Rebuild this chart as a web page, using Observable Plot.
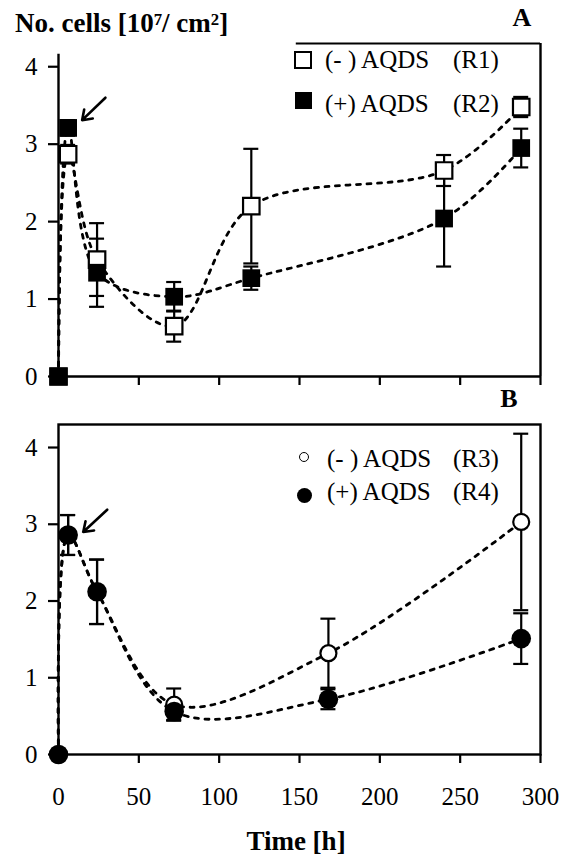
<!DOCTYPE html>
<html><head><meta charset="utf-8">
<script src="https://cdn.jsdelivr.net/npm/d3@7"></script>
<script src="https://cdn.jsdelivr.net/npm/@observablehq/plot@0.6"></script>
<style>
body{margin:0;background:#fff;}
#wrap{position:relative;width:569px;height:860px;font-family:"Liberation Serif","Times New Roman",Times,"DejaVu Serif",serif;color:#000;overflow:hidden;}
.abs{position:absolute;white-space:pre;line-height:1;}
.sup{position:relative;top:-0.42em;font-size:0.62em;}
</style></head><body><div id="wrap"></div>
<script>
// ---- data ----
const timesA = [0, 6, 24, 72, 120, 240, 288];
const r1 = [0, 2.87, 1.51, 0.65, 2.20, 2.66, 3.48];      // (-) AQDS (R1), open squares
const r1Err = [0, 0.12, 0.47, 0.20, 0.74, 0.20, 0.13];
const r2 = [0, 3.21, 1.34, 1.03, 1.27, 2.04, 2.95];      // (+) AQDS (R2), filled squares
const r2Err = [0, 0.10, 0.44, 0.19, 0.15, 0.62, 0.25];
const timesB = [0, 6, 24, 72, 168, 288];
const r3 = [0, 2.86, 2.12, 0.65, 1.32, 3.03];            // (-) AQDS (R3), open circles
const r3Err = [0, 0.26, 0.42, 0.21, 0.45, 1.15];
const r4 = [0, 2.86, 2.12, 0.56, 0.72, 1.51];            // (+) AQDS (R4), filled circles
const r4Err = [0, 0.26, 0.42, 0.11, 0.13, 0.33];
const yTicks = [0, 1, 2, 3, 4];
const xTicks = [0, 50, 100, 150, 200, 250, 300];
const legendA = ["(- ) AQDS", "(+) AQDS"], legendARef = ["(R1)", "(R2)"];
const legendB = ["(- ) AQDS", "(+) AQDS"], legendBRef = ["(R3)", "(R4)"];

const rows = (ts, vs, es) => ts.map((t, i) => ({t, v: vs[i], e: es[i]}));
const A1 = rows(timesA, r1, r1Err), A2 = rows(timesA, r2, r2Err);
const B3 = rows(timesB, r3, r3Err), B4 = rows(timesB, r4, r4Err);

const wrap = document.getElementById("wrap");
const FONT = '"Liberation Serif","Times New Roman",Times,"DejaVu Serif",serif';
const X = {domain: [0, 300]};
const Y = {domain: [0, 4.3]};
const dash = {curve: "catmull-rom", strokeDasharray: "4,6.5", strokeWidth: 2.8, stroke: "black"};
const fmt = d3.format("d");

function errMarks(data) {
  const d = data.filter(r => r.e > 0);
  return [
    Plot.ruleX(d, {x: "t", y1: r => r.v - r.e, y2: r => r.v + r.e, strokeWidth: 2.2}),
    Plot.ruleY(d, {y: r => r.v + r.e, x1: "t", x2: "t", insetLeft: -7.5, insetRight: -7.5, strokeWidth: 2.2}),
    Plot.ruleY(d, {y: r => r.v - r.e, x1: "t", x2: "t", insetLeft: -7.5, insetRight: -7.5, strokeWidth: 2.2})
  ];
}
function arrowFor(p, dx1, dy1, dx2, dy2) {
  return Plot.arrow([{x1: p.t + dx1, y1: p.v + dy1, x2: p.t + dx2, y2: p.v + dy2}],
    {x1: "x1", y1: "y1", x2: "x2", y2: "y2", strokeWidth: 2.6, headLength: 15, headAngle: 70});
}
const style = {fontFamily: FONT, fontSize: "25px", color: "black", background: "transparent", overflow: "visible"};

// ---- panel A ----
const plotA = Plot.plot({
  width: 569, height: 348, marginTop: 3, marginBottom: 12, marginLeft: 58, marginRight: 29,
  x: X, y: Y, style,
  marks: [
    Plot.line(A1, {x: "t", y: "v", ...dash}),
    Plot.line(A2, {x: "t", y: "v", ...dash}),
    ...errMarks(A1), ...errMarks(A2),
    Plot.ruleY([0], {strokeWidth: 2.4}),
    Plot.ruleX([0], {y1: 0, y2: 4.16, strokeWidth: 2.4}),
    Plot.ruleX([300], {y1: 0, y2: 4.3, strokeWidth: 2.4}),
    Plot.ruleY([4.3], {x1: 148, x2: 300, strokeWidth: 2}),
    Plot.axisY({ticks: yTicks, tickFormat: fmt, tickSize: 10, tickPadding: 11, strokeWidth: 2.2, fontSize: 25, fontFamily: FONT, label: null}),
    Plot.axisX({ticks: xTicks, tickSize: 9, strokeWidth: 2.2, tickFormat: () => "", label: null}),
    Plot.dot(A1, {x: "t", y: "v", symbol: "square", r: 9.3, fill: "white", stroke: "black", strokeWidth: 2.2}),
    Plot.dot(A2, {x: "t", y: "v", symbol: "square", r: 10, fill: "black"}),
    arrowFor(A2[1], 23.2, 0.39, 8.7, 0.1)
  ]
});
plotA.style.position = "absolute"; plotA.style.left = "0px"; plotA.style.top = "40px";
wrap.appendChild(plotA);

// ---- panel B ----
const plotB = Plot.plot({
  width: 569, height: 393, marginTop: 3, marginBottom: 60, marginLeft: 58, marginRight: 29,
  x: X, y: Y, style,
  marks: [
    Plot.line(B3, {x: "t", y: "v", ...dash}),
    Plot.line(B4, {x: "t", y: "v", ...dash}),
    ...errMarks(B3), ...errMarks(B4),
    Plot.frame({strokeWidth: 2.4}),
    Plot.axisY({ticks: yTicks, tickFormat: fmt, tickSize: 10, tickPadding: 11, strokeWidth: 2.2, fontSize: 25, fontFamily: FONT, label: null}),
    Plot.axisX({ticks: xTicks, tickFormat: fmt, tickSize: 9, tickPadding: 24, strokeWidth: 2.2, fontSize: 25, fontFamily: FONT, label: null}),
    Plot.dot(B3, {x: "t", y: "v", r: 8, fill: "white", stroke: "black", strokeWidth: 2.2}),
    Plot.dot(B4, {x: "t", y: "v", r: 9.8, fill: "black"}),
    arrowFor(B4[1], 24.3, 0.33, 9.4, 0.04)
  ]
});
plotB.style.position = "absolute"; plotB.style.left = "0px"; plotB.style.top = "421px";
wrap.appendChild(plotB);

// ---- text and legends ----
function txt(html, left, baseline, size, bold, center) {
  const d = document.createElement("div");
  d.className = "abs";
  d.innerHTML = html;
  d.style.fontSize = size + "px";
  d.style.fontFamily = FONT;
  d.style.fontWeight = bold ? "bold" : "normal";
  d.style.left = left + "px";
  d.style.top = (baseline - 0.8375 * size) + "px";
  if (center) d.style.transform = "translateX(-50%)";
  wrap.appendChild(d);
}
function box(cx, cy, w, h, css) {
  const d = document.createElement("div");
  d.style.cssText = `position:absolute;box-sizing:border-box;left:${cx - w / 2}px;top:${cy - h / 2}px;width:${w}px;height:${h}px;` + css;
  wrap.appendChild(d);
}
txt('No. cells [10<span class="sup">7</span>/ cm<span class="sup">2</span>]', 15, 33, 27, true);
txt("A", 522, 27, 26, true, true);
txt("B", 509, 408, 26, true, true);
txt("Time [h]", 296, 851, 27, true, true);

box(302.5, 60, 18, 18, "border:2px solid #000;background:#fff;");
box(303, 100, 17, 17, "background:#000;");
txt(legendA[0], 325, 68.3, 25); txt(legendARef[0], 453, 68.3, 25);
txt(legendA[1], 325, 111.7, 25); txt(legendARef[1], 453, 111.7, 25);

box(304, 457, 10, 10, "border:1.3px solid #000;border-radius:50%;background:#fff;");
box(304, 495, 15, 15, "border-radius:50%;background:#000;");
txt(legendB[0], 327, 466.7, 25); txt(legendBRef[0], 453, 466.7, 25);
txt(legendB[1], 327, 500, 25); txt(legendBRef[1], 453, 500, 25);
</script></body></html>
